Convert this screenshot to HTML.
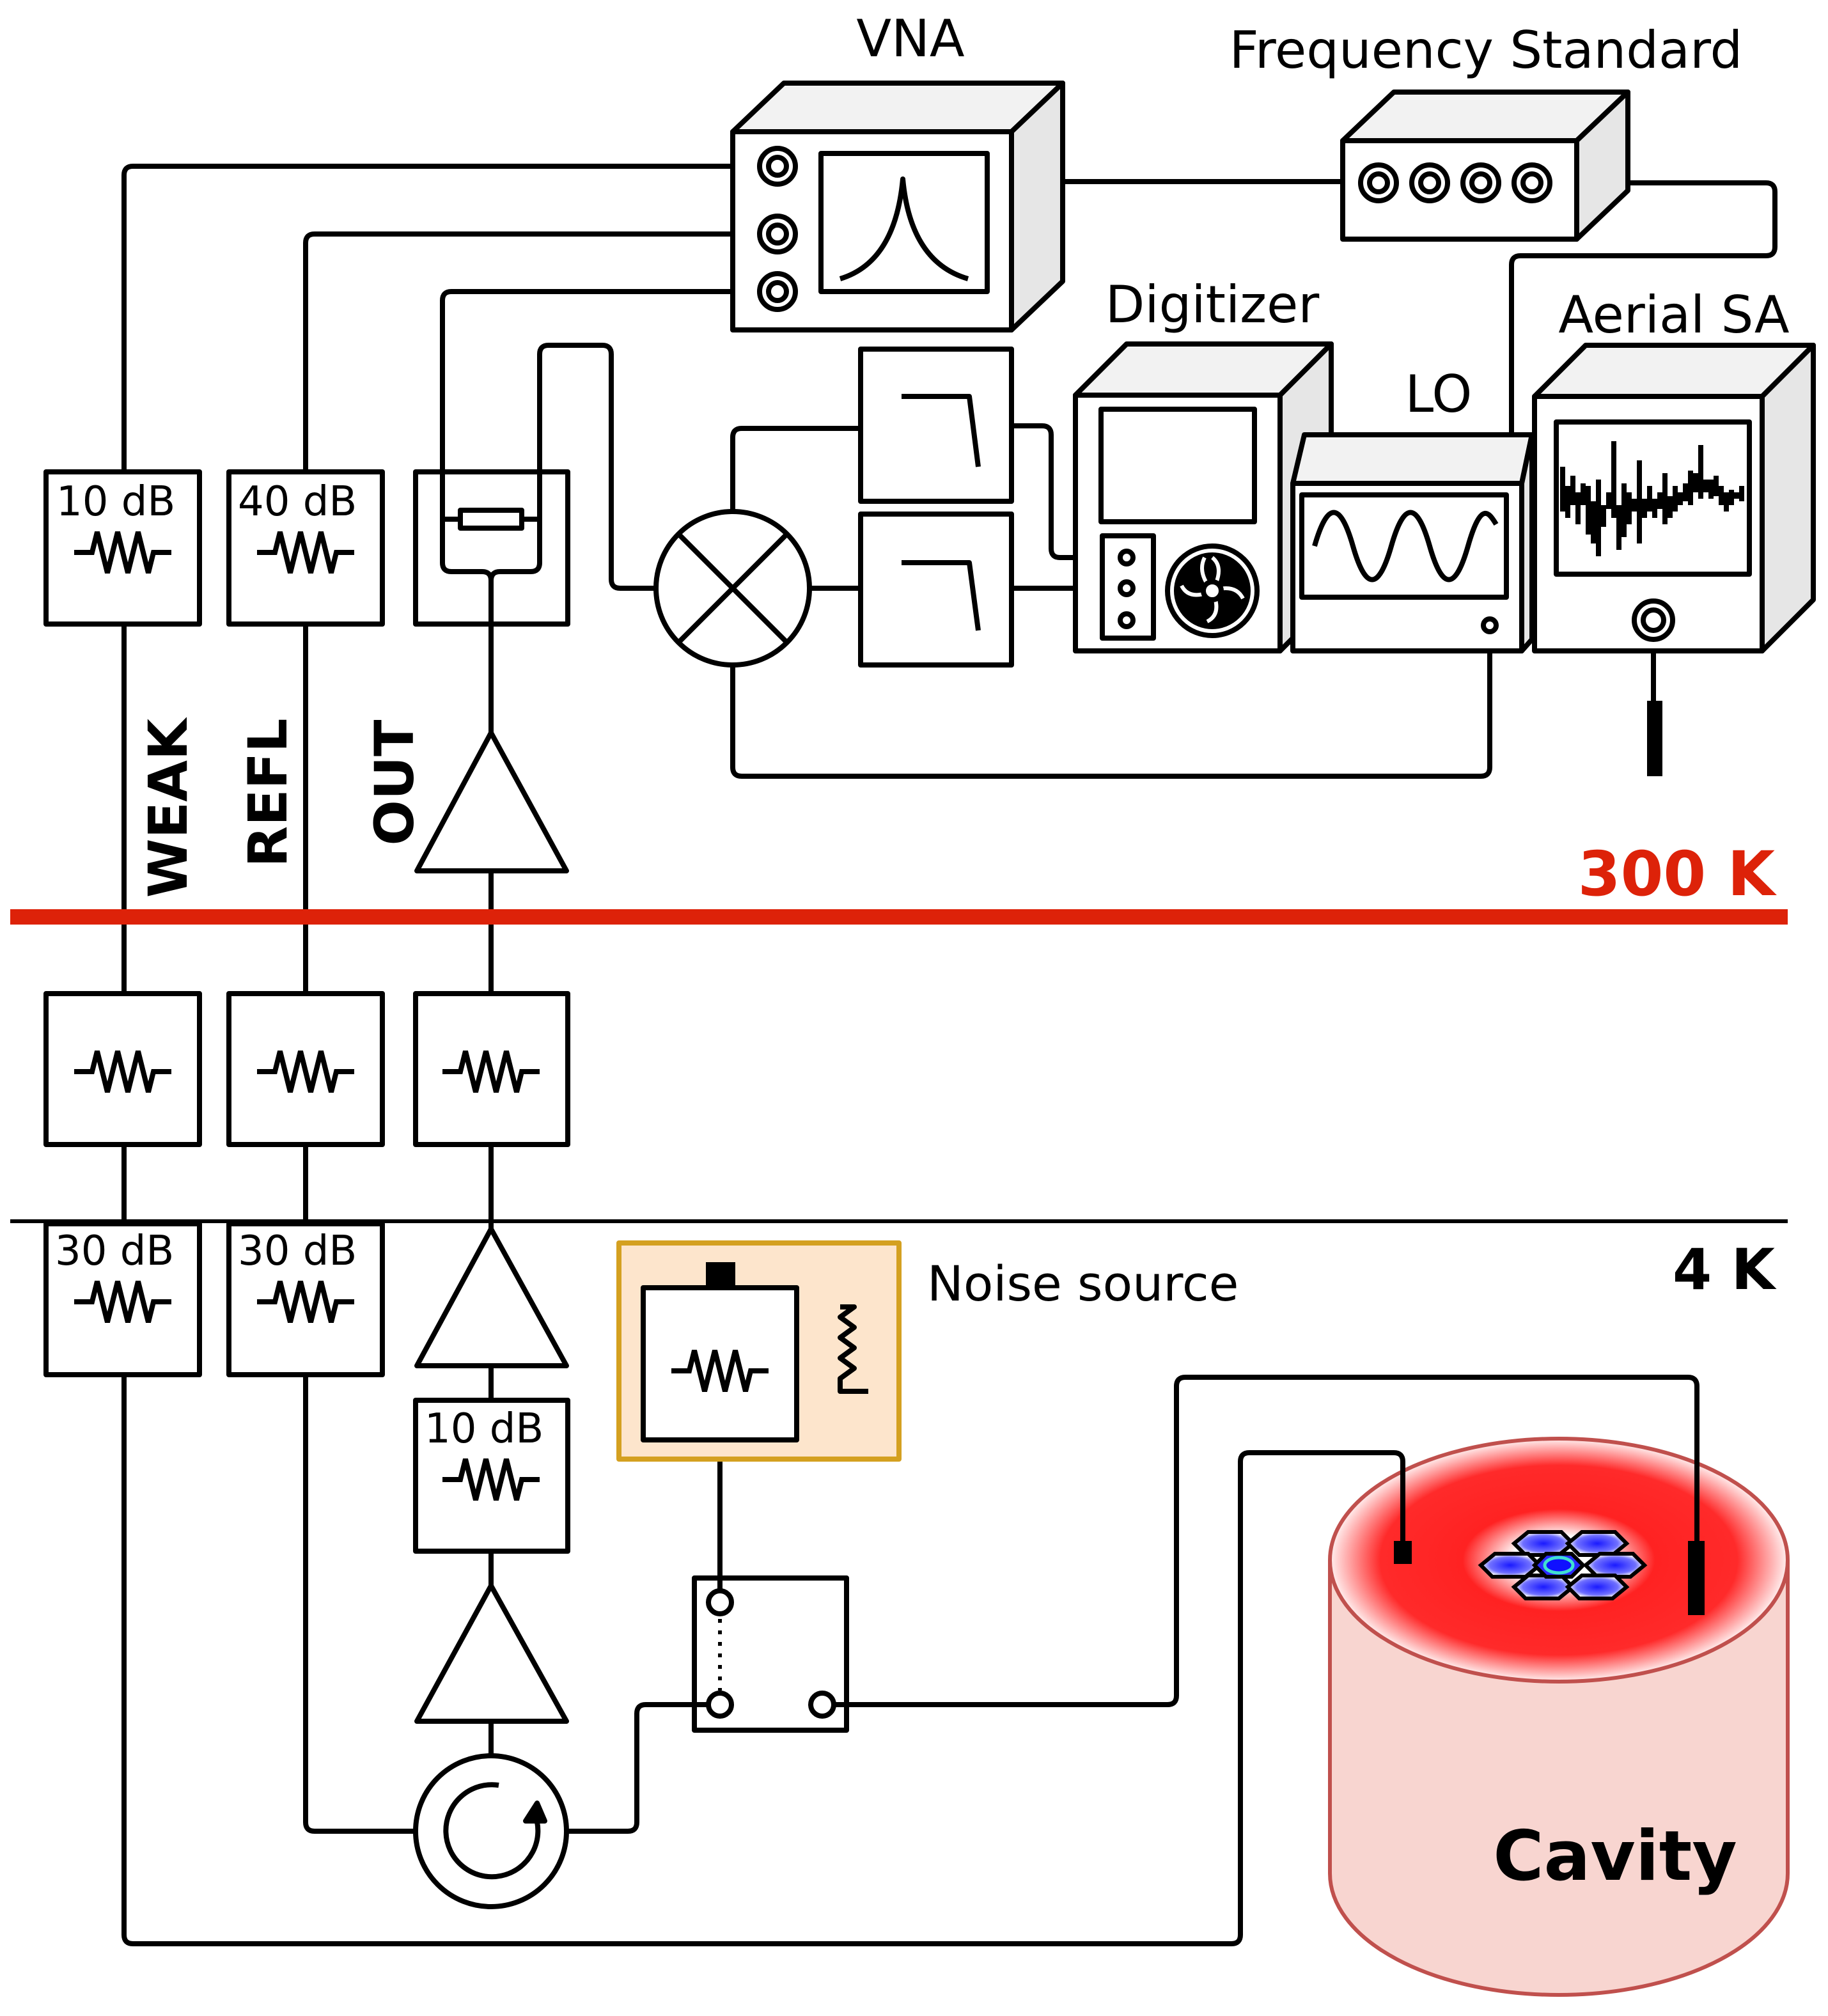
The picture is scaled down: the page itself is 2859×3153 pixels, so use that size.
<!DOCTYPE html>
<html><head><meta charset="utf-8"><style>html,body{margin:0;padding:0;background:#fff}svg{display:block}text{font-family:"DejaVu Sans","Liberation Sans",sans-serif}</style></head>
<body>
<svg width="2859" height="3153" viewBox="0 0 1429.5 1576.5" xmlns="http://www.w3.org/2000/svg">
<defs>
<path id="res" d="M-38 0 h14 l4 -16 l8 32 l8 -32 l8 32 l8 -32 l8 32 l4 -16 h14" fill="none" stroke="#000" stroke-width="4" stroke-linejoin="miter"/>
<radialGradient id="top" cx="0.5" cy="0.5" r="0.5">
<stop offset="0" stop-color="#fff"/><stop offset="0.2" stop-color="#fff"/><stop offset="0.42" stop-color="#ff2222"/><stop offset="0.78" stop-color="#ff2a2a"/><stop offset="1" stop-color="#fff0f0"/></radialGradient>
<radialGradient id="hx" cx="0.5" cy="0.5" r="0.5"><stop offset="0" stop-color="#1a1aff"/><stop offset="0.7" stop-color="#7070ff"/><stop offset="1" stop-color="#fff"/></radialGradient>
</defs>
<g fill="none" stroke="#000" stroke-width="4" stroke-linejoin="round">
<path d="M608 130 H104 q-7 0 -7 7 V369 M97 488 V777 M97 895 V957 M97 1075 V1513 q0 7 7 7 H963 q7 0 7 -7 V1143 q0 -7 7 -7 H1090"/>
<path d="M608 183 H246 q-7 0 -7 7 V369 M239 488 V777 M239 895 V957 M239 1075 V1425 q0 7 7 7 H325"/>
<path d="M608 228 H353 q-7 0 -7 7 V440 q0 7 7 7 H377 q7 0 7 7 q0 -7 7 -7 H415 q7 0 7 -7 V277 q0 -7 7 -7 H471 q7 0 7 7 V453 q0 7 7 7 H514"/>
<path d="M346 406 H360 M408 406 H422"/>
<rect x="360" y="399" width="48" height="14"/>
<path d="M384 454 V573 M384 681 V777 M384 895 V961 M384 1068 V1095 M384 1213 V1240 M384 1346 V1373"/>
<path d="M573 400 V342 q0 -7 7 -7 H673 M633 460 H673 M791 333 H815 q7 0 7 7 V429 q0 7 7 7 H872 M791 460 H872 M573 520 V600 q0 7 7 7 H1158 q7 0 7 -7 V493"/>
<path d="M833 142 H1066 M1210 143 H1381 q7 0 7 7 V193 q0 7 -7 7 H1189 q-7 0 -7 7 V340"/>
<path d="M563 1126 V1244 M554 1333 H505 q-7 0 -7 7 V1425 q0 7 -7 7 H443 M652 1333 H913 q7 0 7 -7 V1084 q0 -7 7 -7 H1320"/>
<path d="M1293 494 V550"/>
<rect x="36" y="369" width="120" height="119"/><rect x="179" y="369" width="120" height="119"/><rect x="325" y="369" width="119" height="119"/>
<rect x="36" y="777" width="120" height="118"/><rect x="179" y="777" width="120" height="118"/><rect x="325" y="777" width="119" height="118"/>
<rect x="36" y="957" width="120" height="118"/><rect x="179" y="957" width="120" height="118"/>
<rect x="325" y="1095" width="119" height="118"/>
<path d="M384 573 L443 681 H326 Z M384 961 L443 1068 H326 Z M384 1240 L443 1346 H326 Z"/>
<circle cx="384" cy="1432" r="59"/>
<path d="M418 1418 A36 36 0 1 1 390 1396" />
<path d="M411 1424 L420 1410 L426 1424 Z" fill="#000"/>
<circle cx="573" cy="460" r="60" fill="#fff"/>
<path d="M531 418 L615 502 M615 418 L531 502"/>
<rect x="673" y="273" width="118" height="119"/><rect x="673" y="402" width="118" height="118"/>
<path d="M705 310 H758 L765 365 M705 440 H758 L765 493"/>
<path d="M573 103 L613 65 H831 L791 103 Z" fill="#f2f2f2"/>
<path d="M791 103 L831 65 V220 L791 258 Z" fill="#e6e6e6"/>
<rect x="573" y="103" width="218" height="155" fill="#fff"/>
<rect x="642" y="120" width="130" height="108"/>
<path d="M657 218 Q700 205 706 140 Q712 205 757 218"/>
<circle cx="608" cy="130" r="14"/><circle cx="608" cy="130" r="7"/>
<circle cx="608" cy="183" r="14"/><circle cx="608" cy="183" r="7"/>
<circle cx="608" cy="228" r="14"/><circle cx="608" cy="228" r="7"/>
<path d="M1050 110 L1090 72 H1273 L1233 110 Z" fill="#f2f2f2"/>
<path d="M1233 110 L1273 72 V149 L1233 187 Z" fill="#e6e6e6"/>
<rect x="1050" y="110" width="183" height="77" fill="#fff"/>
<circle cx="1078" cy="143" r="14"/><circle cx="1078" cy="143" r="7"/>
<circle cx="1118" cy="143" r="14"/><circle cx="1118" cy="143" r="7"/>
<circle cx="1158" cy="143" r="14"/><circle cx="1158" cy="143" r="7"/>
<circle cx="1198" cy="143" r="14"/><circle cx="1198" cy="143" r="7"/>
<path d="M841 309 L881 269 H1041 L1001 309 Z" fill="#f2f2f2"/>
<path d="M1001 309 L1041 269 V469 L1001 509 Z" fill="#e6e6e6"/>
<rect x="841" y="309" width="160" height="200" fill="#fff"/>
<rect x="861" y="320" width="120" height="88"/>
<rect x="862" y="419" width="40" height="80"/>
<circle cx="881" cy="436" r="5"/><circle cx="881" cy="460" r="5"/><circle cx="881" cy="485" r="5"/>
<circle cx="948" cy="462" r="35"/>
<circle cx="948" cy="462" r="28" fill="#000"/>
<g stroke="#fff" stroke-width="3"><path d="M948 462 q10 -18 0 -26 M948 462 q18 -6 24 6 M948 462 q8 18 -4 24 M948 462 q-18 8 -24 -4 M948 462 q-12 -14 -6 -26"/></g>
<circle cx="948" cy="462" r="7" fill="#fff"/>
<path d="M1011 378 L1020 340 H1198 L1190 378 Z" fill="#f2f2f2"/>
<path d="M1190 378 L1198 340 V500 L1190 509 Z" fill="#e6e6e6"/>
<rect x="1011" y="378" width="179" height="131" fill="#fff"/>
<rect x="1018" y="387" width="160" height="80"/>
<path d="M1028 427 C1038 392 1048 392 1058 427 S1078 462 1088 427 S1108 392 1118 427 S1138 462 1148 427 S1164 400 1170 410"/>
<circle cx="1165" cy="489" r="5"/>
<path d="M1200 310 L1240 270 H1418 L1378 310 Z" fill="#f2f2f2"/>
<path d="M1378 310 L1418 270 V469 L1378 509 Z" fill="#e6e6e6"/>
<rect x="1200" y="310" width="178" height="199" fill="#fff"/>
<rect x="1217" y="330" width="151" height="119"/>
<path d="M1222 400 V365 M1226 405 V380 M1230 395 V372 M1234 410 V385 M1238 395 V378 M1242 418 V380 M1246 425 V392 M1250 435 V375 M1254 412 V395 M1258 398 V385 M1262 405 V345 M1266 430 V395 M1270 420 V378 M1274 410 V385 M1278 400 V390 M1282 425 V360 M1286 405 V390 M1290 400 V380 M1294 405 V390 M1298 398 V385 M1302 410 V370 M1306 405 V388 M1310 400 V380 M1314 395 V385 M1318 392 V378 M1322 395 V368 M1326 385 V370 M1330 390 V348 M1334 385 V375 M1338 390 V375 M1342 388 V372 M1346 395 V380 M1350 400 V385 M1354 395 V383 M1358 390 V385 M1362 392 V380" stroke-width="4"/>
<circle cx="1293" cy="485" r="15"/><circle cx="1293" cy="485" r="8"/>
<rect x="484" y="972" width="219" height="169" fill="#fde5cc" stroke="#d4a020"/>
<rect x="503" y="1007" width="120" height="119" fill="#fff"/>
<path d="M657 1022 h11 l-11 8 l11 8 l-11 8 l11 8 l-11 8 l11 8 l-11 8 v10 h22"/>
<rect x="543" y="1234" width="119" height="119"/>
<circle cx="563" cy="1253" r="9" fill="#fff"/><circle cx="563" cy="1333" r="9" fill="#fff"/><circle cx="643" cy="1333" r="9" fill="#fff"/>
<path d="M563 1266 V1322" stroke-dasharray="3 6" stroke-width="3"/>
</g>
<use href="#res" x="96" y="432"/><use href="#res" x="239" y="432"/>
<use href="#res" x="96" y="838"/><use href="#res" x="239" y="838"/><use href="#res" x="384" y="838"/>
<use href="#res" x="96" y="1018"/><use href="#res" x="239" y="1018"/>
<use href="#res" x="384" y="1157"/><use href="#res" x="563" y="1072"/>
<rect x="552" y="987" width="23" height="20" fill="#000"/>
<rect x="1288" y="548" width="12" height="59" fill="#000"/>
<line x1="8" y1="717" x2="1398" y2="717" stroke="#dd2209" stroke-width="12"/>
<line x1="8" y1="955" x2="1398" y2="955" stroke="#000" stroke-width="3"/>
<path d="M1040 1220 V1465 A179 95 0 0 0 1398 1465 V1220" fill="#f8d5d0" stroke="#c0504d" stroke-width="3"/>
<ellipse cx="1219" cy="1220" rx="179" ry="95" fill="url(#top)" stroke="#c0504d" stroke-width="3"/>
<g stroke="#000" stroke-width="3" fill="url(#hx)">
<polygon points="1184,1207 1195,1198 1221,1198 1230,1207 1219,1216 1193,1216"/>
<polygon points="1226,1207 1237,1198 1263,1198 1272,1207 1261,1216 1235,1216"/>
<polygon points="1158,1224 1169,1215 1195,1215 1204,1224 1193,1233 1167,1233"/>
<polygon points="1240,1224 1251,1215 1277,1215 1286,1224 1275,1233 1249,1233"/>
<polygon points="1184,1241 1195,1232 1221,1232 1230,1241 1219,1250 1193,1250"/>
<polygon points="1226,1241 1237,1232 1263,1232 1272,1241 1261,1250 1235,1250"/>
<polygon points="1200,1224 1209,1215 1229,1215 1238,1224 1229,1233 1209,1233" fill="#2a2aff"/>
</g>
<ellipse cx="1219" cy="1224" rx="11" ry="6" fill="#1010ff" stroke="#40e0d0" stroke-width="2.5"/>
<path d="M1090 1136 q7 0 7 7 V1210 M1320 1077 q7 0 7 7 V1210" fill="none" stroke="#000" stroke-width="4"/>
<rect x="1090" y="1205" width="14" height="18" fill="#000"/>
<rect x="1320" y="1205" width="13" height="58" fill="#000"/>
<g font-size="32" fill="#000">
<text x="44" y="403">10 dB</text><text x="186" y="403">40 dB</text>
<text x="43" y="989">30 dB</text><text x="186" y="989">30 dB</text>
<text x="332" y="1128">10 dB</text>
</g>
<g font-size="40" fill="#000">
<text x="712" y="44" text-anchor="middle">VNA</text>
<text x="1162" y="53" text-anchor="middle">Frequency Standard</text>
<text x="948" y="252" text-anchor="middle">Digitizer</text>
<text x="1125" y="322" text-anchor="middle">LO</text>
<text x="1309" y="260" text-anchor="middle">Aerial SA</text>
<text x="725" y="1017" font-size="38">Noise source</text>
</g>
<g font-size="42" font-weight="bold">
<text x="1388" y="700" text-anchor="end" fill="#dd2209" font-size="48">300 K</text>
<text x="1388" y="1008" text-anchor="end" font-size="44">4 K</text>
<text x="1263" y="1470" text-anchor="middle" font-size="54">Cavity</text>
<text transform="translate(146 632) rotate(-90)" text-anchor="middle">WEAK</text>
<text transform="translate(224 620) rotate(-90)" text-anchor="middle">REFL</text>
<text transform="translate(323 612) rotate(-90)" text-anchor="middle">OUT</text>
</g>
</svg>
</body></html>
